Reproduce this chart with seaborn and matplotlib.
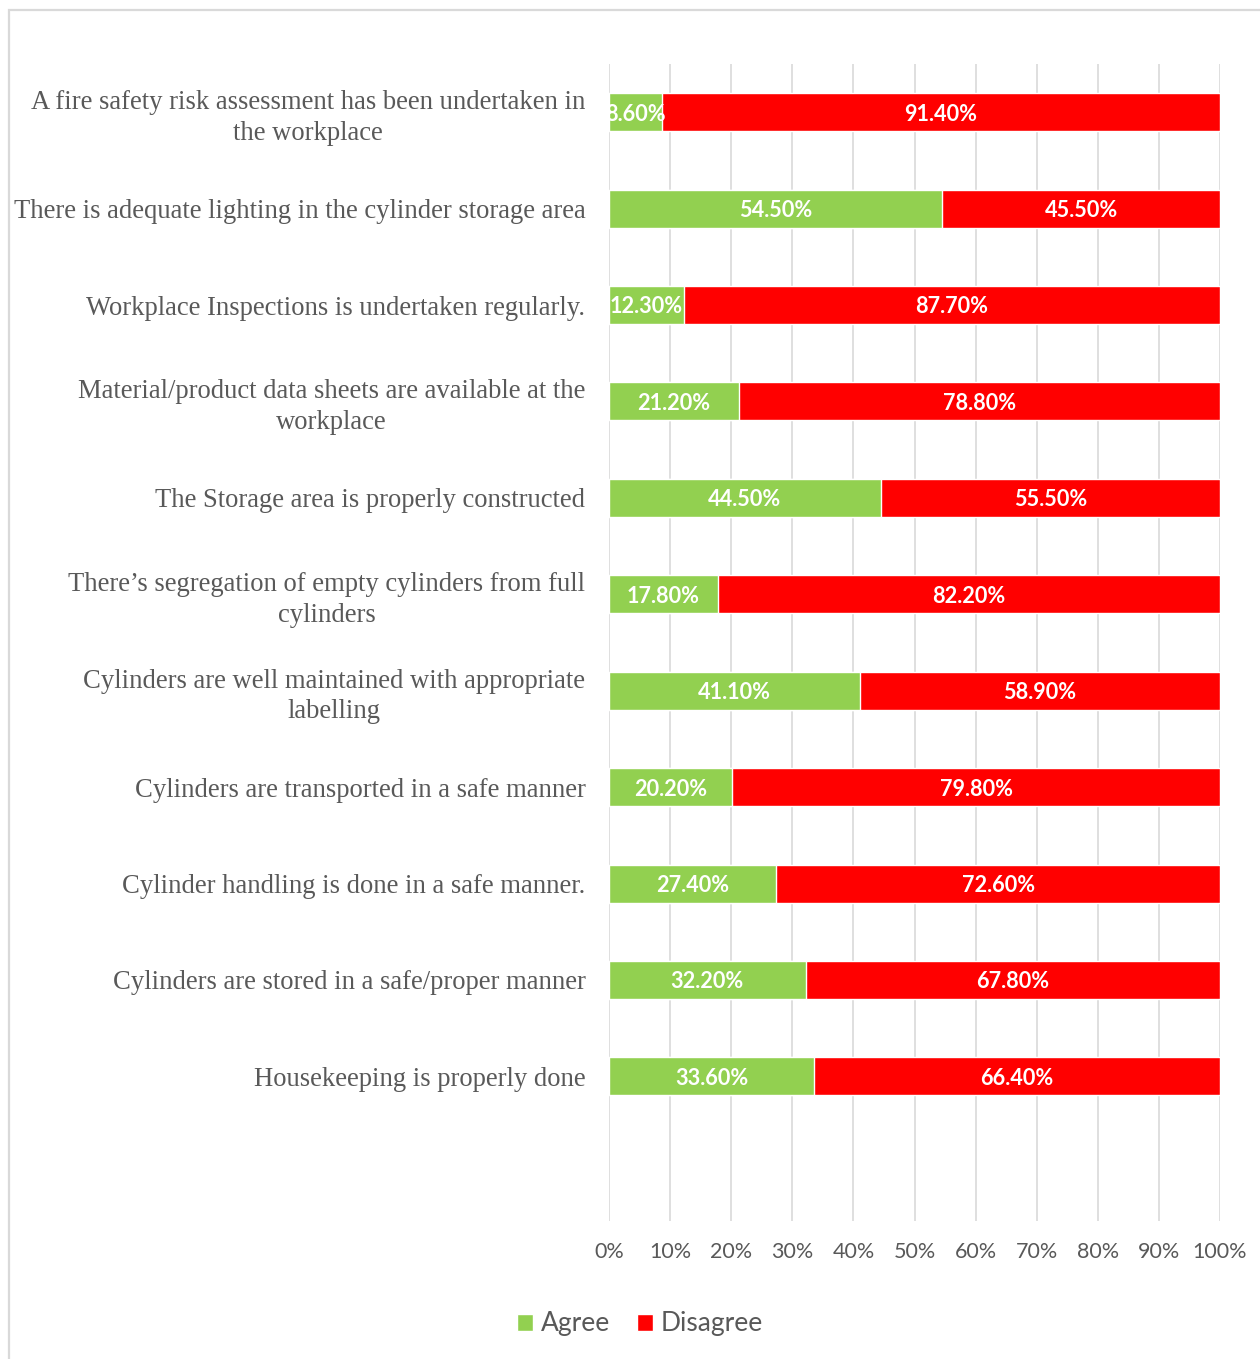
import pandas as pd
import numpy as np
import matplotlib
matplotlib.use('Agg')
import matplotlib.pyplot as plt
import seaborn as sns
from matplotlib.patches import Rectangle, Patch


categories = [
    'A fire safety risk assessment has been undertaken in\nthe workplace',
    'There is adequate lighting in the cylinder storage area',
    'Workplace Inspections is undertaken regularly.',
    'Material/product data sheets are available at the\nworkplace',
    'The Storage area is properly constructed',
    'There\u2019s segregation of empty cylinders from full\ncylinders',
    'Cylinders are well maintained with appropriate\nlabelling',
    'Cylinders are transported in a safe manner',
    'Cylinder handling is done in a safe manner.',
    'Cylinders are stored in a safe/proper manner',
    'Housekeeping is properly done',
]
agree = [8.6, 54.5, 12.3, 21.2, 44.5, 17.8, 41.1, 20.2, 27.4, 32.2, 33.6]
disagree = [91.4, 45.5, 87.7, 78.8, 55.5, 82.2, 58.9, 79.8, 72.6, 67.8, 66.4]
x_ticks = [0, 10, 20, 30, 40, 50, 60, 70, 80, 90, 100]

GREEN = '#92D050'
RED = '#FF0000'
GRID = '#D9D9D9'
TEXT = '#595959'

df = pd.DataFrame({'category': categories, 'agree': agree, 'disagree': disagree})
df['total'] = df['agree'] + df['disagree']

sns.set_style('white')
plt.rcParams['font.family'] = ['Lato', 'DejaVu Sans']

fig = plt.figure(figsize=(12.6, 13.59), dpi=100)
ax = fig.add_axes([609 / 1260, 1 - 1221 / 1359, 611 / 1260, 1157 / 1359])

# stacked bars: full length in red, agree share in green on top
sns.barplot(data=df, x='total', y='category', color=RED, width=0.394,
            saturation=1, ax=ax, zorder=2)
sns.barplot(data=df, x='agree', y='category', color=GREEN, width=0.394,
            saturation=1, ax=ax, zorder=3)

for i, (a, d) in enumerate(zip(agree, disagree)):
    t = ax.text(a / 2, i + 0.02, f'{a:.2f}%', ha='center', va='center', color='white',
                fontsize=15.6, fontweight='bold', zorder=5)
    t.set_clip_on(True)
    ax.text(a + d / 2, i + 0.02, f'{d:.2f}%', ha='center', va='center', color='white',
            fontsize=15.6, fontweight='bold', zorder=5)

ax.set_xlim(0, 100)
ax.set_ylim(11.5, -0.5)
ax.set_xticks(x_ticks)
ax.set_xticklabels([f'{v}%' for v in x_ticks], fontsize=15.5, color=TEXT)
ax.tick_params(axis='x', length=0, pad=15)
ax.tick_params(axis='y', length=0, pad=17)
ax.set_yticks(range(len(categories)))
ax.set_yticklabels(categories, fontsize=19.2, color=TEXT,
                   family='Liberation Serif', multialignment='center',
                   linespacing=1.3)
ax.set_xlabel('')
ax.set_ylabel('')
ax.grid(axis='x', color=GRID, linewidth=1.2, zorder=0)
ax.grid(axis='y', visible=False)
ax.set_axisbelow(True)
for s in ax.spines.values():
    s.set_visible(False)

handles = [Patch(facecolor=GREEN, label='Agree'), Patch(facecolor=RED, label='Disagree')]
fig.legend(handles=handles, loc='center', bbox_to_anchor=(640 / 1260, 1 - 1324 / 1359),
           ncol=2, frameon=False, fontsize=19, labelcolor=TEXT,
           handlelength=0.62, handleheight=0.62, handletextpad=0.3, columnspacing=1.0)

# outer chart frame
fig.patches.append(Rectangle((9 / 1260, -0.01), 1.0, 1 - 10 / 1359 + 0.01,
                             transform=fig.transFigure, fill=False,
                             edgecolor=GRID, linewidth=1.6))

fig.savefig('out.png', dpi=100)
